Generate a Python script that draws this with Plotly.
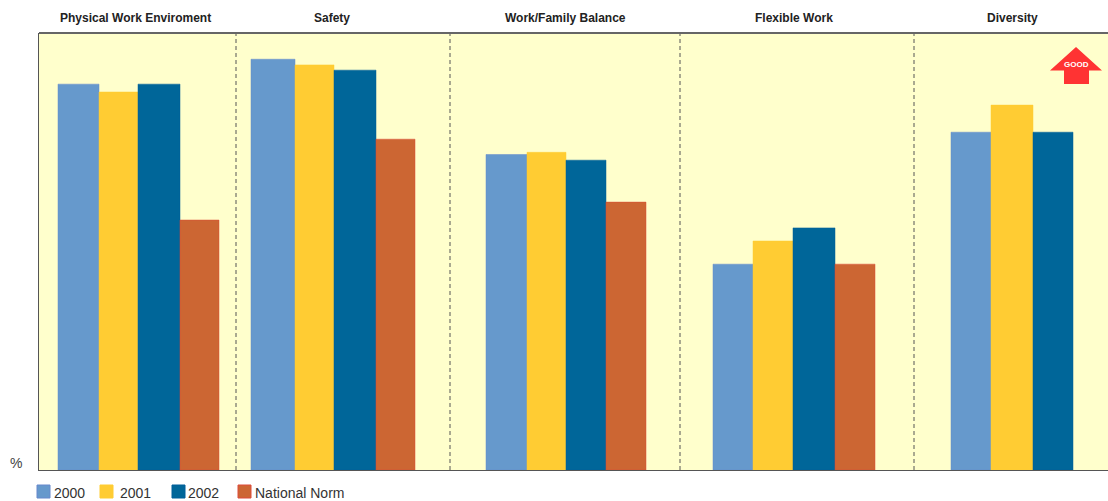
import plotly.graph_objects as go

# Survey sections and the share of favourable answers per year
sections = ["Physical Work Enviroment", "Safety", "Work/Family Balance", "Flexible Work", "Diversity"]
values_2000 = [88.3, 94.0, 72.2, 47.1, 77.3]
values_2001 = [86.5, 92.7, 72.7, 52.4, 83.5]
values_2002 = [88.3, 91.5, 70.9, 55.4, 77.3]
values_norm = [57.2, 75.7, 61.3, 47.1]

# Horizontal layout of the bars on a 0-1108 axis: bar edges per section
bar_edges = [
    [58, 99, 138, 180, 219],
    [251, 295, 334, 376, 415],
    [486, 527, 566, 606, 646],
    [713, 753, 793, 835, 875],
    [951, 991, 1033, 1073],
]
section_centres = [135, 332, 565, 794, 1012]
dividers = [236, 450, 680, 914]

series = [
    ("2000", values_2000, "#6699cc", "#6688cc"),
    ("2001", values_2001, "#ffcc33", "#ffcc33"),
    ("2002", values_2002, "#006699", "#005f9a"),
    ("National Norm", values_norm, "#cc6633", "#dd4a3a"),
]
legend_swatch_left = [37, 100, 172, 238]
legend_text_left = [54, 120, 188, 255]

# Plot frame in page pixels
FRAME_L, FRAME_R, FRAME_T, FRAME_B = 39, 1108, 33, 470


def px(x):
    return (x - FRAME_L) / (FRAME_R - FRAME_L)


def py(y):
    return (FRAME_B - y) / (FRAME_B - FRAME_T)


fig = go.Figure()
for i, (name, vals, colour, edge) in enumerate(series):
    lefts = [bar_edges[k][i] for k in range(len(vals))]
    rights = [bar_edges[k][i + 1] for k in range(len(vals))]
    fig.add_trace(go.Bar(
        name=name,
        x=lefts,
        y=vals,
        width=[r - l for l, r in zip(lefts, rights)],
        offset=0,
        showlegend=False,
        marker=dict(color=colour, line=dict(color=edge, width=0.5)),
    ))

shapes = [
    dict(type="line", xref="x", yref="paper", x0=d, x1=d, y0=0, y1=1,
         line=dict(color="#555555", width=1, dash="4px,3px"))
    for d in dividers
]

# "Good" arrow pointing up in the top right corner
arrow = [(1076, 47), (1102, 70.5), (1089, 70.5), (1089, 84), (1064, 84), (1064, 70.5), (1050, 70.5)]
arrow_path = "M " + " L ".join(f"{px(a):.5f} {py(b):.5f}" for a, b in arrow) + " Z"
shapes.append(dict(type="path", xref="paper", yref="paper", layer="above", path=arrow_path,
                   fillcolor="#ff3333", line=dict(width=0)))

# Top border of the plot frame
shapes.append(dict(type="line", xref="paper", yref="paper", x0=0, x1=1, y0=1, y1=1,
                   line=dict(color="#666666", width=2)))

annotations = [
    dict(x=c, y=1, xref="x", yref="paper", yanchor="bottom", yshift=6, text=f"<b>{s}</b>",
         showarrow=False, font=dict(family="Liberation Sans", size=12, color="#222222"))
    for c, s in zip(section_centres, sections)
]
annotations.append(dict(x=px(1076.5), y=py(64.5), xref="paper", yref="paper", xanchor="center", yanchor="middle",
                        text="<b>GOOD</b>", showarrow=False,
                        font=dict(family="Liberation Sans", size=8, color="#ffffff")))
annotations.append(dict(x=px(16), y=py(463), xref="paper", yref="paper", xanchor="center", yanchor="middle",
                        text="%", showarrow=False,
                        font=dict(family="Liberation Sans", size=14, color="#444444")))

# Legend row below the plot
for (name, _, colour, edge), sx, tx in zip(series, legend_swatch_left, legend_text_left):
    shapes.append(dict(type="rect", xref="paper", yref="paper",
                       x0=px(sx), x1=px(sx + 13), y0=py(498), y1=py(485),
                       fillcolor=colour, line=dict(color=edge, width=1)))
    annotations.append(dict(x=px(tx), y=py(492.5), xref="paper", yref="paper", xanchor="left",
                            yanchor="middle", text=name, showarrow=False, xshift=-2,
                            font=dict(family="Liberation Sans", size=14, color="#333333")))

fig.update_layout(
    width=1108, height=501,
    margin=dict(l=FRAME_L, r=0, t=FRAME_T, b=501 - FRAME_B),
    paper_bgcolor="#ffffff",
    plot_bgcolor="#ffffcc",
    barmode="overlay",
    showlegend=False,
    shapes=shapes,
    annotations=annotations,
    xaxis=dict(range=[39, 1108], showgrid=False, zeroline=False, showticklabels=False, ticks="",
               showline=True, linecolor="#555555", linewidth=1),
    yaxis=dict(range=[0, 100], showgrid=False, zeroline=False, showticklabels=False, ticks="",
               showline=True, linecolor="#555555", linewidth=1),
)

fig.write_html("out.html")
